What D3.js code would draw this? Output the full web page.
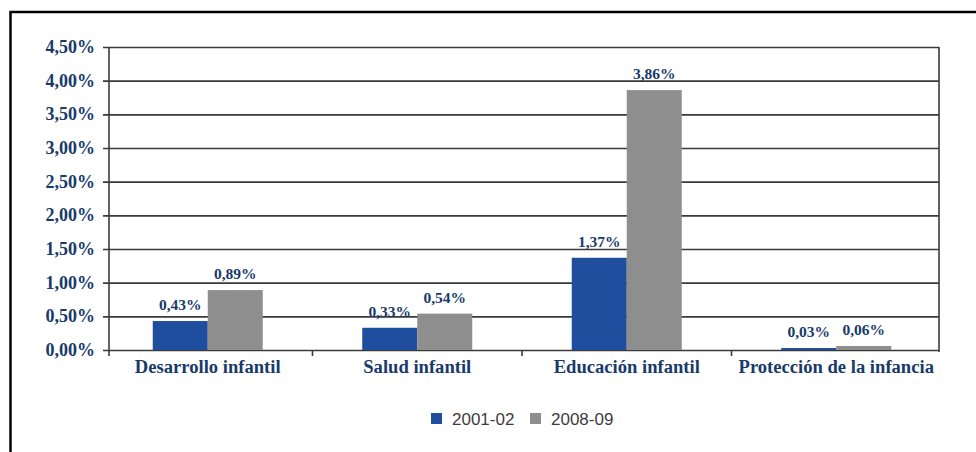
<!DOCTYPE html>
<html>
<head>
<meta charset="utf-8">
<script src="https://cdn.jsdelivr.net/npm/d3@7"></script>
<style>
  body { margin: 0; background: #fff; }
  svg { display: block; }
</style>
</head>
<body>
<div class="chart"></div>
<script>
var w = 976,
    h = 452;

var categories = ["Desarrollo infantil", "Salud infantil", "Educación infantil", "Protección de la infancia"];
var series = ["2001-02", "2008-09"];
var values2001 = [0.43, 0.33, 1.37, 0.03];
var values2008 = [0.89, 0.54, 3.86, 0.06];
var yTicks = [0, 0.5, 1, 1.5, 2, 2.5, 3, 3.5, 4, 4.5];

var color = ["#1f4e9e", "#8e8e8e"];
var navy = "#183a6b";
var serif = "'Liberation Serif', 'Times New Roman', serif";

var data = categories.map(function(c, i) {
  return { cat: c, vals: [values2001[i], values2008[i]] };
});

var plotL = 110, plotR = 939, plotT = 47, plotB = 350;

var svg = d3.select(".chart").append("svg")
  .attr("width", w)
  .attr("height", h);

// outer frame (runs off the right and bottom of the picture)
svg.append("path")
  .attr("d", "M10.5," + (h + 5) + "V12H" + (w + 5))
  .attr("fill", "none")
  .attr("stroke", "#000")
  .attr("stroke-width", 2.5);

// category bands are slightly wider than the plotting frame, as in the original
var x0 = d3.scaleBand()
  .domain(categories)
  .range([103, 941]);

var x1 = d3.scaleBand()
  .domain(series)
  .range([0, 110]);

var y = d3.scaleLinear()
  .domain([0, 4.5])
  .range([plotB, plotT]);

var fmt = function(v) { return d3.format(".2f")(v).replace(".", ",") + "%"; };

// y axis with gridlines
var yAxis = svg.append("g")
  .attr("transform", "translate(" + plotL + ",0)")
  .call(d3.axisLeft(y).tickValues(yTicks).tickFormat(fmt).tickSize(6).tickSizeOuter(0));

yAxis.select(".domain").remove();
yAxis.selectAll(".tick line")
  .attr("x1", -7)
  .attr("x2", plotR - plotL)
  .attr("stroke", "#3a3a3a")
  .attr("stroke-width", 1.6);
yAxis.selectAll(".tick text")
  .attr("x", -15)
  .attr("dy", "0.3em")
  .style("font-family", serif)
  .style("font-weight", "bold")
  .style("font-size", "18px")
  .attr("fill", navy);

// vertical axis lines
svg.append("line")
  .attr("x1", plotL - 1).attr("x2", plotL - 1)
  .attr("y1", plotT).attr("y2", plotB + 6)
  .attr("stroke", "#3a3a3a").attr("stroke-width", 1.6);
svg.append("line")
  .attr("x1", plotR).attr("x2", plotR)
  .attr("y1", plotT).attr("y2", plotB + 2)
  .attr("stroke", "#3a3a3a").attr("stroke-width", 1.6);

// category ticks between groups
svg.selectAll(".cattick")
  .data(categories.slice(1))
  .enter()
  .append("line")
  .attr("class", "cattick")
  .attr("x1", function(d) { return x0(d); })
  .attr("x2", function(d) { return x0(d); })
  .attr("y1", plotB)
  .attr("y2", plotB + 6)
  .attr("stroke", "#3a3a3a")
  .attr("stroke-width", 1.6);

// bars
var groups = svg.selectAll(".grp")
  .data(data)
  .enter()
  .append("g")
  .attr("class", "grp")
  .attr("transform", function(d) {
    return "translate(" + (x0(d.cat) + (x0.bandwidth() - 110) / 2) + ",0)";
  });

groups.selectAll("rect")
  .data(function(d) { return d.vals; })
  .enter()
  .append("rect")
  .attr("x", function(d, i) { return x1(series[i]); })
  .attr("y", function(d) { return y(d); })
  .attr("width", x1.bandwidth())
  .attr("height", function(d) { return plotB - y(d); })
  .style("fill", function(d, i) { return color[i]; });

groups.selectAll("text")
  .data(function(d) { return d.vals; })
  .enter()
  .append("text")
  .attr("x", function(d, i) { return x1(series[i]) + x1.bandwidth() / 2; })
  .attr("y", function(d) { return y(d) - 11; })
  .attr("text-anchor", "middle")
  .style("font-family", serif)
  .style("font-weight", "bold")
  .style("font-size", "15.5px")
  .attr("fill", navy)
  .text(fmt);

// category labels
svg.selectAll(".catlabel")
  .data(categories)
  .enter()
  .append("text")
  .attr("class", "catlabel")
  .attr("x", function(d) { return x0(d) + x0.bandwidth() / 2; })
  .attr("y", 373)
  .attr("text-anchor", "middle")
  .style("font-family", serif)
  .style("font-weight", "bold")
  .style("font-size", "18.6px")
  .attr("fill", navy)
  .text(function(d) { return d; });

// legend
var legendX = [431, 530];
var legend = svg.selectAll(".legend")
  .data(series)
  .enter()
  .append("g")
  .attr("class", "legend")
  .attr("transform", function(d, i) { return "translate(" + legendX[i] + ",413)"; });

legend.append("rect")
  .attr("width", 11)
  .attr("height", 11)
  .style("fill", function(d, i) { return color[i]; });

legend.append("text")
  .attr("x", 21)
  .attr("y", 11.5)
  .style("font-family", "Arial, 'Liberation Sans', sans-serif")
  .style("font-size", "17px")
  .attr("fill", "#3c3c3c")
  .text(function(d) { return d; });
</script>
</body>
</html>
